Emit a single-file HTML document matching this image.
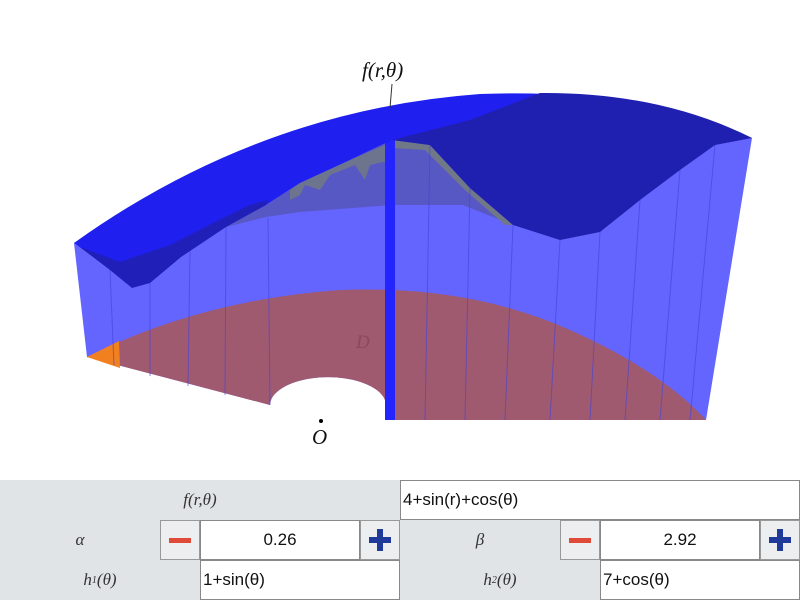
<!DOCTYPE html>
<html><head><meta charset="utf-8"><style>
body{margin:0;width:800px;height:600px;background:#fff;overflow:hidden;font-family:"Liberation Sans",sans-serif;position:relative}
svg{position:absolute;left:0;top:0}
.panel{position:absolute;left:0;top:480px;width:800px;height:120px;background:#e1e4e7}
.cell{position:absolute;box-sizing:border-box}
.lab{font-family:"Liberation Serif",serif;font-style:italic;font-size:17px;color:#333;display:flex;align-items:center;justify-content:center}
.lab sub{font-size:10px;vertical-align:-6px}
.inp{background:#fff;border:1px solid #888;font-size:17px;color:#111;display:flex;align-items:center;padding-left:2px}
.num{justify-content:center;padding:0}
.btn{background:#eceeef;border:1px solid #999;display:flex;align-items:center;justify-content:center}
.minus{width:22px;height:5px;background:#e04a38}
.plus{position:relative;width:22px;height:22px}
.plus:before{content:"";position:absolute;left:0;top:8px;width:22px;height:6px;background:#1f3a9a}
.plus:after{content:"";position:absolute;left:8px;top:0;width:6px;height:22px;background:#1f3a9a}
</style></head><body>
<svg width="800" height="480">
  <path fill="#6464ff" d="M74,243 L110,270 L132,288 L150,283 L181,257 L226,227 L266,205 L300,183 L350,160 L392,140 L430,145 L470,188 L513,225 L560,240 L600,232 L640,200 L680,170 L715,145 L752,138 L706,420 L385,420 L385,400 A58,28 0 0 0 270,405 L87,357 Z"/>
  <polygon fill="#5858c4" points="226,227 266,205 300,183 350,160 392,140 430,145 470,188 513,225 463,205 392,205 300,212 266,217"/>
  <polygon fill="#707888" opacity="0.9" points="290,190 300,183 350,160 392,142 392,160 370,165 365,180 355,165 330,175 320,190 305,185 300,195 290,200"/>
  <polygon fill="#707888" points="392,140 430,145 470,188 513,225 505,225 465,190 425,150 392,148"/>
  <path fill="#a05a70" d="M87,357 Q200,300 340,290 Q470,285 570,330 Q660,370 706,420 L385,420 L385,400 A58,28 0 0 0 270,405 Z"/>
  <polygon fill="#f28020" points="87,357 119,341 120,368"/>
  <g stroke="#4040e0" stroke-width="1" opacity="0.6">
    <line x1="110" y1="270" x2="114" y2="365"/><line x1="150" y1="283" x2="150" y2="376"/><line x1="190" y1="250" x2="188" y2="386"/><line x1="226" y1="227" x2="225" y2="395"/><line x1="268" y1="218" x2="270" y2="405"/>
    <line x1="430" y1="145" x2="425" y2="420"/><line x1="470" y1="188" x2="465" y2="420"/><line x1="513" y1="225" x2="505" y2="420"/><line x1="560" y1="240" x2="550" y2="420"/><line x1="600" y1="232" x2="590" y2="420"/><line x1="640" y1="200" x2="625" y2="420"/><line x1="680" y1="170" x2="660" y2="420"/><line x1="715" y1="145" x2="690" y2="420"/>
  </g>
  <rect x="385" y="140" width="10" height="280" fill="#2424ff"/>
  <path fill="#1f1ff0" d="M74,243 Q260,110 480,94 Q650,88 752,138 L715,145 L680,170 L640,200 L600,232 L560,240 L513,225 L470,188 L430,145 L392,140 L350,160 L300,183 L266,205 L226,227 L181,257 L150,283 L132,288 L110,270 Z"/>
  <path fill="#2020b0" d="M392,140 L470,120 L540,93 Q660,92 752,138 L715,145 L680,170 L640,200 L600,232 L560,240 L513,225 L470,188 L430,145 Z"/>
  <polygon fill="#2020b8" points="80,247 120,262 170,245 215,222 250,205 268,200 266,205 226,227 181,257 150,283 132,288 110,270"/>
  <line x1="392" y1="84" x2="390" y2="108" stroke="#333" stroke-width="1"/>
  <text x="362" y="77" font-family="Liberation Serif,serif" font-style="italic" font-size="21" fill="#111">f(r,θ)</text>
  <text x="356" y="348" font-family="Liberation Serif,serif" font-style="italic" font-size="19" fill="#8a4a5a">D</text>
  <circle cx="321" cy="421" r="2" fill="#000"/>
  <text x="312" y="444" font-family="Liberation Serif,serif" font-style="italic" font-size="21" fill="#111">O</text>
</svg>
<div class="panel">
  <div class="cell lab" style="left:0;top:0;width:400px;height:40px">f(r,θ)</div>
  <div class="cell inp" style="left:400px;top:0;width:400px;height:40px">4+sin(r)+cos(θ)</div>
  <div class="cell lab" style="left:0;top:40px;width:160px;height:40px">α</div>
  <div class="cell btn" style="left:160px;top:40px;width:40px;height:40px"><div class="minus"></div></div>
  <div class="cell inp num" style="left:200px;top:40px;width:160px;height:40px">0.26</div>
  <div class="cell btn" style="left:360px;top:40px;width:40px;height:40px"><div class="plus"></div></div>
  <div class="cell lab" style="left:400px;top:40px;width:160px;height:40px">β</div>
  <div class="cell btn" style="left:560px;top:40px;width:40px;height:40px"><div class="minus"></div></div>
  <div class="cell inp num" style="left:600px;top:40px;width:160px;height:40px">2.92</div>
  <div class="cell btn" style="left:760px;top:40px;width:40px;height:40px"><div class="plus"></div></div>
  <div class="cell lab" style="left:0;top:80px;width:200px;height:40px">h<sub>1</sub>(θ)</div>
  <div class="cell inp" style="left:200px;top:80px;width:200px;height:40px">1+sin(θ)</div>
  <div class="cell lab" style="left:400px;top:80px;width:200px;height:40px">h<sub>2</sub>(θ)</div>
  <div class="cell inp" style="left:600px;top:80px;width:200px;height:40px">7+cos(θ)</div>
</div>
</body></html>
